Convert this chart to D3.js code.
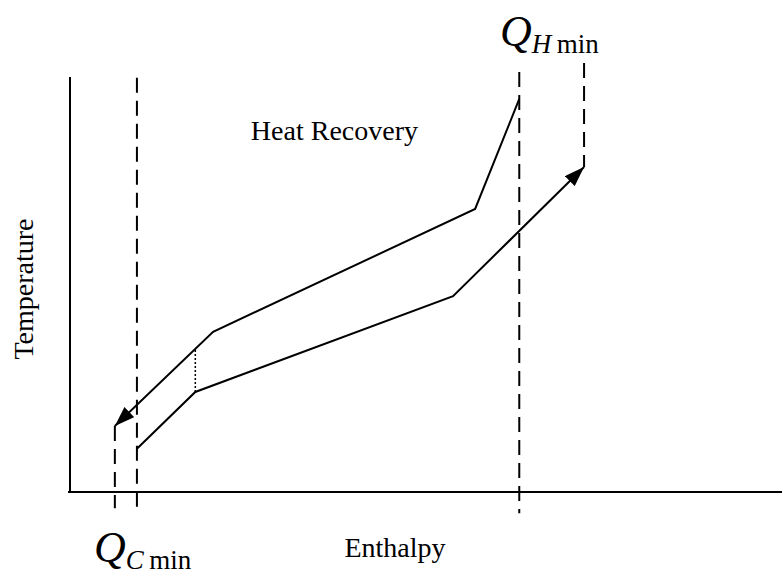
<!DOCTYPE html>
<html>
<head>
<meta charset="utf-8">
<script src="https://cdn.jsdelivr.net/npm/d3@7.9.0/dist/d3.min.js"></script>
<style>
  body { margin: 0; background: #fff; }
  text { font-family: "Liberation Serif", "Times New Roman", serif; fill: #000; }
</style>
</head>
<body>
<div id="chart"></div>
<script>
// composite curves, [enthalpy, temperature] in relative units (0-100)
const hotCurve = [[63.1, 94.7], [56.9, 68.2], [20.1, 38.6], [6.3, 15.9]];
const coldCurve = [[9.4, 10.4], [17.6, 24.1], [53.8, 47.2], [72.2, 78.3]];

// dashed guide lines: x, from temperature, to temperature
const guides = [
  { x: 6.3, y0: 15.9, y1: -3.9 },
  { x: 9.4, y0: 99.8, y1: -4.3 },
  { x: 63.1, y0: 101.2, y1: -5.1 },
  { x: 72.2, y0: 103.4, y1: 78.3 }
];

// dotted pinch line between curves
const pinch = { x: 17.6, y0: 24.1, y1: 34.5 };

const width = 782;
const height = 574;

const svg = d3.select('#chart')
  .append('svg')
  .attr('width', width)
  .attr('height', height);

const xScale = d3.scaleLinear().domain([0, 100]).range([70, 782]);
const yScale = d3.scaleLinear().domain([0, 100]).range([492, 77]);

svg.append('defs')
  .append('marker')
  .attr('id', 'arrow')
  .attr('viewBox', '0 0 20 14')
  .attr('refX', 20)
  .attr('refY', 7)
  .attr('markerWidth', 21)
  .attr('markerHeight', 14)
  .attr('markerUnits', 'userSpaceOnUse')
  .attr('orient', 'auto')
  .append('path')
  .attr('d', 'M0,0 L20,7 L0,14 Z')
  .attr('fill', '#000');

// axes (plain lines, no ticks)
svg.append('line')
  .attr('x1', xScale(0)).attr('x2', xScale(0))
  .attr('y1', yScale(100)).attr('y2', yScale(0))
  .attr('stroke', '#000').attr('stroke-width', 2);

svg.append('line')
  .attr('x1', xScale(0) - 2).attr('x2', xScale(100))
  .attr('y1', yScale(0)).attr('y2', yScale(0))
  .attr('stroke', '#000').attr('stroke-width', 2);

// dashed guides
svg.selectAll('line.guide')
  .data(guides)
  .join('line')
  .attr('class', 'guide')
  .attr('x1', d => xScale(d.x)).attr('x2', d => xScale(d.x))
  .attr('y1', d => yScale(d.y0)).attr('y2', d => yScale(d.y1))
  .attr('stroke', '#000')
  .attr('stroke-width', 2)
  .attr('stroke-dasharray', '15,8');

svg.append('line')
  .attr('x1', xScale(pinch.x)).attr('x2', xScale(pinch.x))
  .attr('y1', yScale(pinch.y0)).attr('y2', yScale(pinch.y1))
  .attr('stroke', '#000')
  .attr('stroke-width', 1.5)
  .attr('stroke-dasharray', '2,2');

const line = d3.line()
  .x(d => xScale(d[0]))
  .y(d => yScale(d[1]));

svg.selectAll('path.curve')
  .data([hotCurve, coldCurve])
  .join('path')
  .attr('class', 'curve')
  .attr('d', line)
  .attr('fill', 'none')
  .attr('stroke', '#000')
  .attr('stroke-width', 2)
  .attr('marker-end', 'url(#arrow)');

// labels
svg.append('text')
  .attr('x', 418).attr('y', 140)
  .attr('text-anchor', 'end')
  .style('font-size', '28px')
  .text('Heat Recovery');

svg.append('text')
  .attr('x', 395).attr('y', 557)
  .attr('text-anchor', 'middle')
  .style('font-size', '28px')
  .text('Enthalpy');

svg.append('text')
  .attr('transform', 'translate(33,289) rotate(-90)')
  .attr('text-anchor', 'middle')
  .style('font-size', '28px')
  .text('Temperature');

function qLabel(x, y, sub) {
  const t = svg.append('text').attr('x', x).attr('y', y);
  t.append('tspan')
    .style('font-size', '44px')
    .style('font-style', 'italic')
    .text('Q');
  t.append('tspan')
    .attr('dy', 7)
    .style('font-size', '27px')
    .style('font-style', 'italic')
    .text(sub);
  t.append('tspan')
    .style('font-size', '27px')
    .text('\u2009min');
}

qLabel(500, 46, 'H');
qLabel(94, 562, 'C');
</script>
</body>
</html>
